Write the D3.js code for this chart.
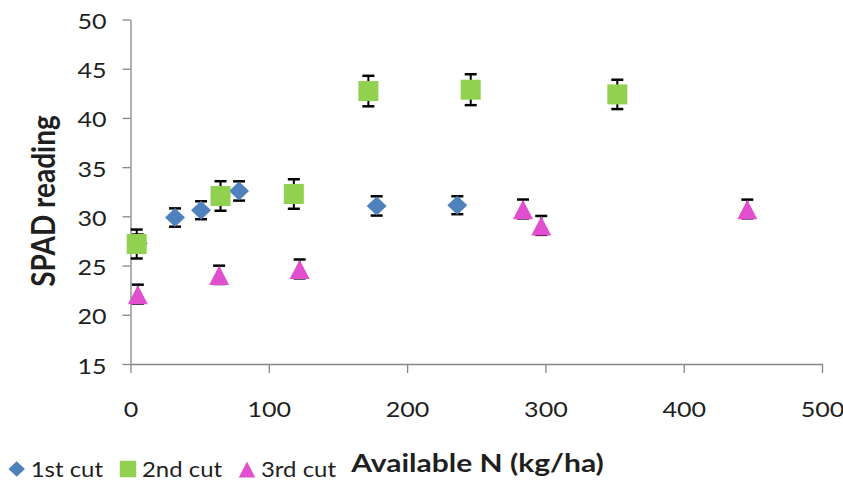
<!DOCTYPE html>
<html>
<head>
<meta charset="utf-8">
<script src="https://cdn.jsdelivr.net/npm/d3@7/dist/d3.min.js"></script>
<style>
  html, body { margin: 0; padding: 0; background: #fff; }
  svg { display: block; }
  text { font-family: Lato, "Open Sans", sans-serif; }
</style>
</head>
<body>
<svg id="chart" width="843" height="482"></svg>
<script>
// SPAD readings against available nitrogen, three cuts, mean ± error
const seriesNames = ["1st cut", "2nd cut", "3rd cut"];
const seriesColors = ["#4F81BD", "#92D050", "#E24FCE"];
const seriesShapes = ["diamond", "square", "triangle"];

const cut1N    = [5.3, 32.2, 51, 78.5, 178, 236.3];
const cut1SPAD = [27.25, 29.88, 30.62, 32.58, 31.06, 31.13];
const cut1Err  = [0.9, 0.93, 0.91, 0.98, 0.98, 0.91];

const cut2N    = [4.5, 65.1, 118.1, 172, 246, 352];
const cut2SPAD = [27.19, 32.07, 32.27, 42.73, 42.87, 42.39];
const cut2Err  = [1.47, 1.5, 1.5, 1.55, 1.57, 1.49];

const cut3N    = [5.3, 64.1, 122.3, 283.8, 297, 446];
const cut3SPAD = [22.1, 24.06, 24.66, 30.75, 29.08, 30.75];
const cut3Err  = [0.96, 0.93, 0.96, 0.96, 0.96, 0.95];

const xTicks = [0, 100, 200, 300, 400, 500];
const yTicks = [15, 20, 25, 30, 35, 40, 45, 50];
const xTitle = "Available N (kg/ha)";
const yTitle = "SPAD reading";

const series = [
  { n: cut1N, v: cut1SPAD, e: cut1Err },
  { n: cut2N, v: cut2SPAD, e: cut2Err },
  { n: cut3N, v: cut3SPAD, e: cut3Err }
].map((s, i) => ({
  name: seriesNames[i], color: seriesColors[i], shape: seriesShapes[i],
  points: s.n.map((n, j) => ({ n, v: s.v[j], e: s.e[j] }))
}));

const plot = { left: 130.5, right: 822, top: 19.5, bottom: 364 };
const x = d3.scaleLinear().domain([0, 500]).range([plot.left, plot.right]);
const y = d3.scaleLinear().domain([15, 50]).range([plot.bottom, plot.top]);

const svg = d3.select("#chart");
const axisColor = "#868686";
const textColor = "#1f1f1f";
const wide = 1.14;   // horizontal stretch of the chart lettering

// marker outlines around the data point
function markerPath(shape, s) {
  const h = s / 2;
  if (shape === "diamond") {
    const hy = h * 0.95;
    return `M0,${-hy}L${h},0L0,${hy}L${-h},0Z`;
  }
  if (shape === "square") return `M${-h},${-h}H${h}V${h}H${-h}Z`;
  const top = h * 0.92, base = h * 1.02;
  return `M0,${-top}L${h},${base}L${-h},${base}Z`;
}

// axes
const yAxis = d3.axisLeft(y).tickValues(yTicks).tickSizeInner(8).tickSizeOuter(0).tickPadding(16);
const xAxis = d3.axisBottom(x).tickValues(xTicks).tickSizeInner(9).tickSizeOuter(0).tickPadding(28);

const gy = svg.append("g").attr("transform", `translate(${plot.left},0)`).call(yAxis);
const gx = svg.append("g").attr("transform", `translate(0,${plot.bottom})`).call(xAxis);
[gx, gy].forEach(g => {
  g.select(".domain").attr("stroke", axisColor).attr("stroke-width", 1.3);
  g.selectAll(".tick line").attr("stroke", axisColor).attr("stroke-width", 1.3);
  g.selectAll(".tick text").attr("fill", textColor).attr("font-size", 22)
    .attr("font-family", "Lato, 'Open Sans', sans-serif");
});
gy.selectAll(".tick text").attr("dy", "0.41em")
  .attr("transform", `translate(-24,0) scale(${wide},1) translate(24,0)`);
gx.selectAll(".tick text").attr("transform", `scale(${wide},1)`);

// error bars first, markers over them
const gSeries = svg.append("g").selectAll("g").data(series).join("g");

gSeries.each(function (s) {
  const g = d3.select(this);
  const eb = g.append("g").attr("stroke", "#000");
  eb.selectAll("line.stem").data(s.points).join("line").attr("class", "stem")
    .attr("x1", d => x(d.n)).attr("x2", d => x(d.n))
    .attr("y1", d => y(d.v + d.e)).attr("y2", d => y(d.v - d.e))
    .attr("stroke-width", 2);
  eb.selectAll("line.capTop").data(s.points).join("line").attr("class", "capTop")
    .attr("x1", d => x(d.n) - 6).attr("x2", d => x(d.n) + 6)
    .attr("y1", d => y(d.v + d.e)).attr("y2", d => y(d.v + d.e))
    .attr("stroke-width", 2.5);
  eb.selectAll("line.capBot").data(s.points).join("line").attr("class", "capBot")
    .attr("x1", d => x(d.n) - 6).attr("x2", d => x(d.n) + 6)
    .attr("y1", d => y(d.v - d.e)).attr("y2", d => y(d.v - d.e))
    .attr("stroke-width", 2.5);
});

gSeries.each(function (s) {
  d3.select(this).append("g").selectAll("path").data(s.points).join("path")
    .attr("d", markerPath(s.shape, 20))
    .attr("transform", d => `translate(${x(d.n)},${y(d.v)})`)
    .attr("fill", s.color);
});

// axis titles
svg.append("text")
  .attr("transform", `translate(55,201) scale(1.15,1) rotate(-90)`)
  .attr("text-anchor", "middle")
  .attr("font-size", 28).attr("font-weight", "bold").attr("fill", textColor)
  .text(yTitle);

svg.append("text")
  .attr("transform", `translate(477.5,472) scale(1.2,1)`)
  .attr("text-anchor", "middle")
  .attr("font-size", 25).attr("font-weight", "bold").attr("fill", textColor)
  .text(xTitle);

// legend along the bottom left
const legendX = [16.7, 128, 247];
const legend = svg.append("g").selectAll("g").data(series).join("g")
  .attr("transform", (d, i) => `translate(${legendX[i]},469)`);
legend.append("path")
  .attr("d", d => markerPath(d.shape, 16.5))
  .attr("fill", d => d.color);
legend.append("text")
  .attr("transform", `translate(14,7.5) scale(${wide},1)`)
  .attr("font-size", 21).attr("fill", textColor)
  .text(d => d.name);
</script>
</body>
</html>
